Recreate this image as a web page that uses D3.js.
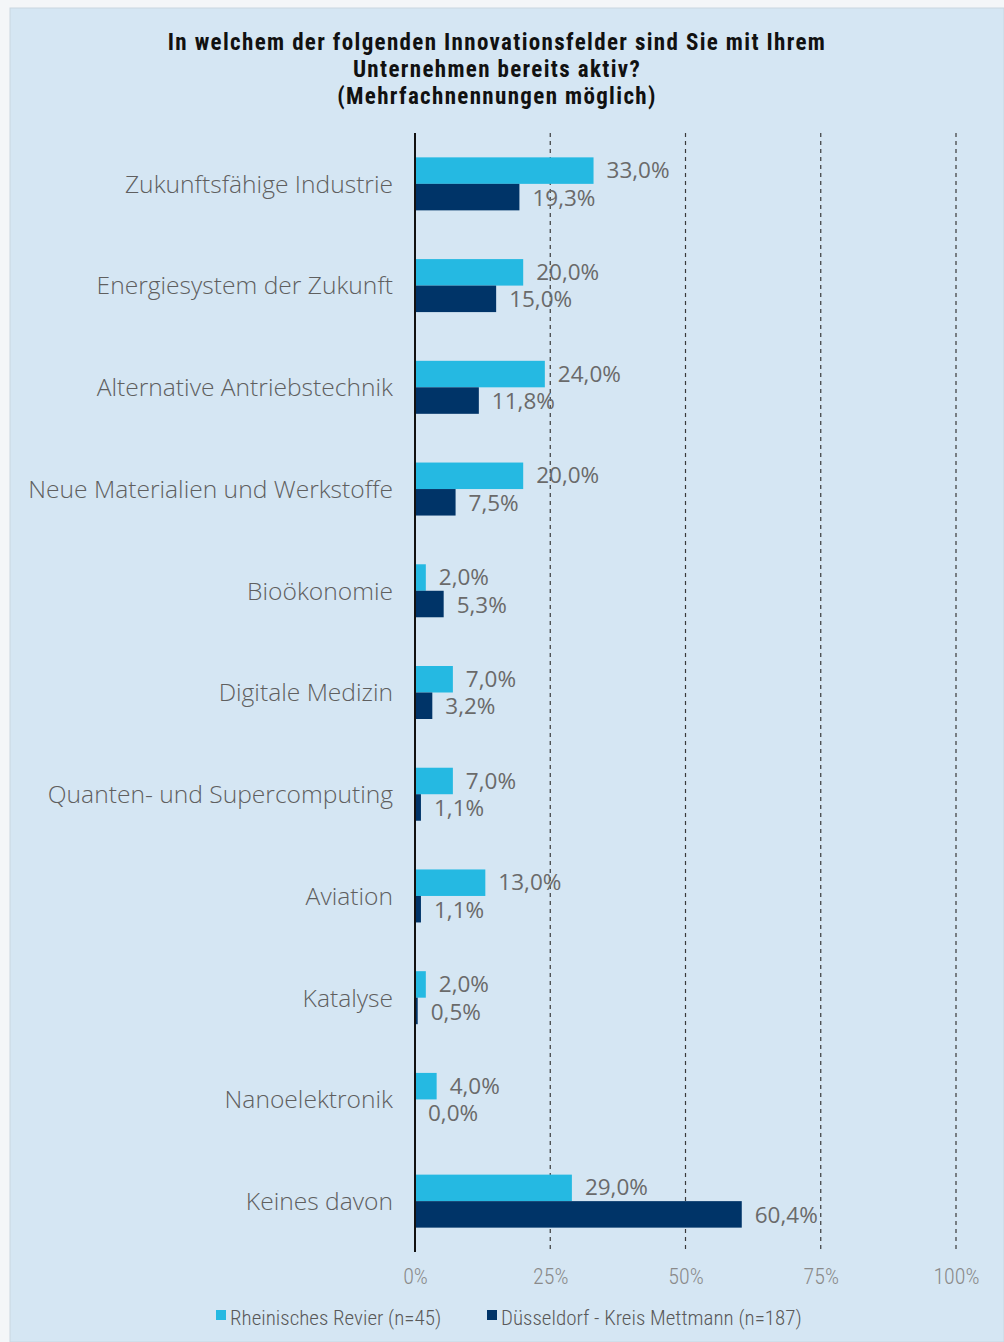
<!DOCTYPE html>
<html>
<head>
<meta charset="utf-8">
<script src="https://cdn.jsdelivr.net/npm/d3@7"></script>
<style>
  body { margin: 0; background: #f4f6f8; }
  svg { display: block; }
</style>
</head>
<body>
<div class="chart"></div>
<script>
// Data
var categories = [
  "Zukunftsfähige Industrie",
  "Energiesystem der Zukunft",
  "Alternative Antriebstechnik",
  "Neue Materialien und Werkstoffe",
  "Bioökonomie",
  "Digitale Medizin",
  "Quanten- und Supercomputing",
  "Aviation",
  "Katalyse",
  "Nanoelektronik",
  "Keines davon"
];
var revier = [33.0, 20.0, 24.0, 20.0, 2.0, 7.0, 7.0, 13.0, 2.0, 4.0, 29.0];
var duesseldorf = [19.3, 15.0, 11.8, 7.5, 5.3, 3.2, 1.1, 1.1, 0.5, 0.0, 60.4];
var seriesNames = ["Rheinisches Revier (n=45)", "Düsseldorf - Kreis Mettmann (n=187)"];
var xTicks = [0, 25, 50, 75, 100];
var titleLines = [
  "In welchem der folgenden Innovationsfelder sind Sie mit Ihrem",
  "Unternehmen bereits aktiv?",
  "(Mehrfachnennungen möglich)"
];

var svgWidth = 1004, svgHeight = 1342;
var colors = ["#25b9e2", "#003468"];
var condensed = "'Roboto Condensed', 'Liberation Sans Narrow', sans-serif";

var svg = d3.select(".chart").append("svg")
  .attr("width", svgWidth)
  .attr("height", svgHeight);

// panel background
svg.append("rect")
  .attr("x", 10).attr("y", 8)
  .attr("width", svgWidth - 10).attr("height", svgHeight - 8)
  .attr("fill", "#d5e6f3")
  .attr("stroke", "#c9d6e0");

// title
svg.append("g").selectAll("text")
  .data(titleLines)
  .enter().append("text")
  .attr("x", 497)
  .attr("y", (d, i) => 50 + i * 27)
  .attr("text-anchor", "middle")
  .style("font-family", condensed)
  .style("font-weight", "bold")
  .style("font-size", "23px")
  .style("letter-spacing", "1.35px")
  .attr("fill", "#111")
  .text(d => d);

var margin = { top: 133, left: 415 };
var chartWidth = 541, chartHeight = 1119;

var chartGroup = svg.append("g")
  .attr("transform", `translate(${margin.left}, ${margin.top})`);

var xScale = d3.scaleLinear().domain([0, 100]).range([0, chartWidth]);
var yScale = d3.scaleBand().domain(categories).range([0, chartHeight]);
var barH = 26.5;

// dashed gridlines
chartGroup.append("g").selectAll("line")
  .data(xTicks.filter(d => d > 0))
  .enter().append("line")
  .attr("x1", d => xScale(d)).attr("x2", d => xScale(d))
  .attr("y1", 0).attr("y2", chartHeight)
  .attr("stroke", "#3a3a3a")
  .attr("stroke-width", 1.2)
  .attr("stroke-dasharray", "4,4");

// x tick labels
var xAxis = d3.axisBottom(xScale).tickValues(xTicks).tickFormat(d => d + "%").tickSize(0);
var xg = chartGroup.append("g")
  .attr("transform", `translate(0, ${chartHeight})`)
  .call(xAxis);
xg.select(".domain").remove();
xg.selectAll("text")
  .attr("dy", 0).attr("y", 32)
  .style("font-family", condensed)
  .style("font-weight", "300")
  .style("font-size", "22px")
  .attr("fill", "#8a8a8a");

// bars
var groups = chartGroup.selectAll(".cat")
  .data(categories)
  .enter().append("g")
  .attr("class", "cat")
  .attr("transform", d => `translate(0, ${yScale(d) + yScale.bandwidth() / 2})`);

[revier, duesseldorf].forEach(function (vals, s) {
  groups.append("rect")
    .attr("x", 0)
    .attr("y", s === 0 ? -barH : 0)
    .attr("width", (d, i) => xScale(vals[i]))
    .attr("height", barH)
    .attr("fill", colors[s]);

  groups.append("text")
    .attr("x", (d, i) => xScale(vals[i]) + 13)
    .attr("y", s === 0 ? -barH / 2 - 0.5 : barH / 2 + 0.5)
    .attr("dy", "0.36em")
    .style("font-family", "'Open Sans', sans-serif")
    .style("font-size", "22.5px")
    .attr("fill", "#6a6a6a")
    .text((d, i) => vals[i].toFixed(1).replace(".", ",") + "%");
});

// category labels
groups.append("text")
  .attr("x", -22)
  .attr("y", 0)
  .attr("dy", "0.36em")
  .attr("text-anchor", "end")
  .style("font-family", "'Open Sans', sans-serif")
  .style("font-weight", "300")
  .style("font-size", "24.6px")
  .attr("fill", "#5f5f5f")
  .text(d => d);

// zero axis
chartGroup.append("line")
  .attr("x1", 0).attr("x2", 0)
  .attr("y1", 0).attr("y2", chartHeight)
  .attr("stroke", "#111")
  .attr("stroke-width", 2);

// legend
var legend = svg.append("g").attr("transform", "translate(0, 1319)");
var legendX = [216, 487];
seriesNames.forEach(function (name, s) {
  legend.append("rect")
    .attr("x", legendX[s]).attr("y", -9)
    .attr("width", 10).attr("height", 10)
    .attr("fill", colors[s]);
  legend.append("text")
    .attr("x", legendX[s] + 14).attr("y", 0)
    .attr("dy", "0.3em")
    .style("font-family", condensed)
    .style("font-weight", "300")
    .style("font-size", "21px")
    .attr("fill", "#595959")
    .text(name);
});
</script>
</body>
</html>
